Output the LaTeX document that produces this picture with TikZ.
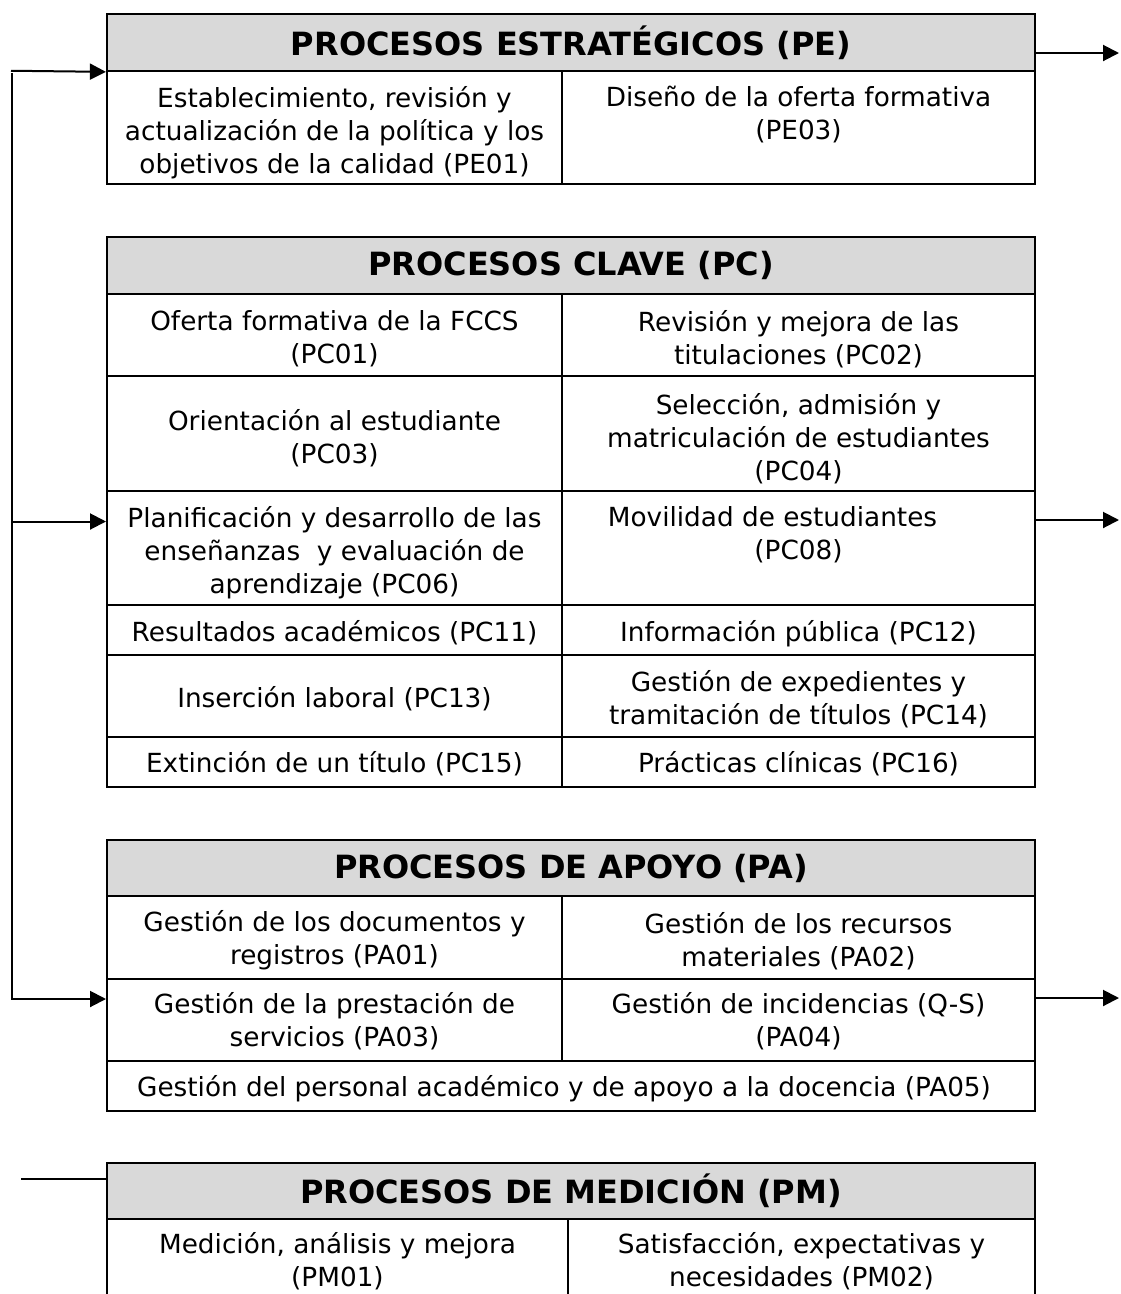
\documentclass[tikz,border=0pt]{standalone}
\usepackage{fontspec}
\setmainfont{DejaVu Sans}
\usetikzlibrary{arrows.meta}
\definecolor{colorHead}{HTML}{D9D9D9}

\tikzset{
  headbox/.style={draw, fill=colorHead, line width=2.2pt, minimum width=928pt,
    minimum height=56.5pt, inner sep=0pt, font=\fontsize{32}{36}\selectfont\bfseries},
  cell/.style={anchor=north, inner sep=0pt, align=center, font=\fontsize{26.3}{33}\selectfont},
  rule/.style={line width=2.2pt},
  feed/.style={line width=2pt, -{Triangle[length=16pt,width=16pt]}},
}

\begin{document}
\begin{tikzpicture}[x=1pt, y=-1pt]
    \path[use as bounding box, clip] (0,0) rectangle (1120,1294);

    % estrategicos
    \node[headbox] (peHead) at (571,42.5) {PROCESOS ESTRATÉGICOS (PE)};
    \draw[rule] (107,70.75) rectangle (1035,184);
    \draw[rule] (562,70.75) -- (562,184);
    \node[cell] (pe01) at (334.5,86) {Establecimiento, revisión y\\actualización de la política y los\\objetivos de la calidad (PE01)};
    \node[cell] (pe03) at (798.5,86) {Diseño de la oferta formativa\\(PE03)};

    % clave
    \node[headbox] (pcHead) at (571,265.5) {PROCESOS CLAVE (PC)};
    \draw[rule] (107,293.75) rectangle (1035,786.7);
    \draw[rule] (562,293.75) -- (562,786.7);
    \foreach \y in {375.7,490.7,604.7,655,736.7}
        \draw[rule] (107,\y) -- (1035,\y);
    \node[cell] (pc01) at (334.5,310.5) {Oferta formativa de la FCCS\\(PC01)};
    \node[cell] (pc02) at (798.5,310.5) {Revisión y mejora de las\\titulaciones (PC02)};
    \node[cell] (pc03) at (334.5,409.5) {Orientación al estudiante\\(PC03)};
    \node[cell] (pc04) at (798.5,393) {Selección, admisión y\\matriculación de estudiantes\\(PC04)};
    \node[cell] (pc06) at (334.5,506.5) {Planificación y desarrollo de las\\enseñanzas\ \ y evaluación de\\aprendizaje (PC06)};
    \node[cell] (pc08) at (798.5,506.5) {Movilidad de estudiantes\hspace*{52pt}\\(PC08)};
    \node[cell] (pc11) at (334.5,620) {Resultados académicos (PC11)};
    \node[cell] (pc12) at (798.5,620) {Información pública (PC12)};
    \node[cell] (pc13) at (334.5,686.5) {Inserción laboral (PC13)};
    \node[cell] (pc14) at (798.5,670) {Gestión de expedientes y\\tramitación de títulos (PC14)};
    \node[cell] (pc15) at (334.5,751.5) {Extinción de un título (PC15)};
    \node[cell] (pc16) at (798.5,751.5) {Prácticas clínicas (PC16)};

    % apoyo
    \node[headbox] (paHead) at (571,868) {PROCESOS DE APOYO (PA)};
    \draw[rule] (107,896.25) rectangle (1035,1110.7);
    \draw[rule] (562,896.25) -- (562,1060.7);
    \foreach \y in {978.7,1060.7}
        \draw[rule] (107,\y) -- (1035,\y);
    \node[cell] (pa01) at (334.5,910) {Gestión de los documentos y\\registros (PA01)};
    \node[cell] (pa02) at (798.5,912.5) {Gestión de los recursos\\materiales (PA02)};
    \node[cell] (pa03) at (334.5,992.5) {Gestión de la prestación de\\servicios (PA03)};
    \node[cell] (pa04) at (798.5,992.5) {Gestión de incidencias (Q-S)\\(PA04)};
    \node[cell] (pa05) at (571,1075) {Gestión del personal académico y de apoyo a la docencia (PA05)\hspace*{14pt}};

    % medicion
    \node[headbox] (pmHead) at (571,1191) {PROCESOS DE MEDICIÓN (PM)};
    \draw[rule] (107,1219.25) rectangle (1035,1340);
    \draw[rule] (568,1219.25) -- (568,1340);
    \node[cell] (pm01) at (337.5,1232) {Medición, análisis y mejora\\(PM01)};
    \node[cell] (pm02) at (801.5,1232) {Satisfacción, expectativas y\\necesidades (PM02)};

    % entradas por la izquierda
    \coordinate (busTop) at (12,73);
    \coordinate (busBottom) at (12,999);
    \coordinate (peIn) at (11,70.75);
    \coordinate (pcFrom) at (12,521.5);
    \coordinate (pcIn) at (106,521.5);
    \coordinate (paIn) at (106,999);
    \draw[feed] (peIn) -- (peHead.south west);
    \draw[feed] (busTop) -- (busBottom) -- (paIn);
    \draw[feed] (pcFrom) -- (pcIn);
    \coordinate (pmFrom) at (21,1179.3);
    \coordinate (pmIn) at (106,1179.3);
    \draw[line width=2.2pt] (pmFrom) -- (pmIn);

    % salidas por la derecha
    \coordinate (peOut) at (1035,53);
    \coordinate (peEnd) at (1119,53);
    \coordinate (pcOut) at (1035,520);
    \coordinate (pcEnd) at (1119,520);
    \coordinate (paOut) at (1035,998);
    \coordinate (paEnd) at (1119,998);
    \draw[feed] (peOut) -- (peEnd);
    \draw[feed] (pcOut) -- (pcEnd);
    \draw[feed] (paOut) -- (paEnd);
\end{tikzpicture}
\end{document}
